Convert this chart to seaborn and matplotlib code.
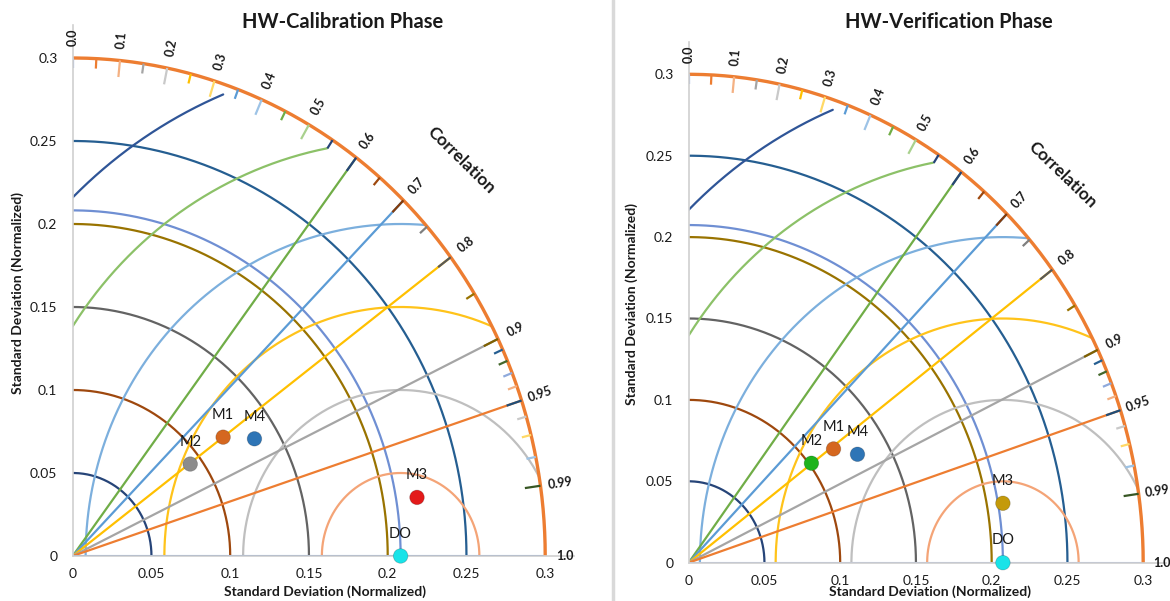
import numpy as np
import pandas as pd
import matplotlib
matplotlib.use("Agg")
import matplotlib.pyplot as plt
import seaborn as sns
from matplotlib.lines import Line2D

# standard deviation circles (centred on origin)
std_levels = [0.05, 0.1, 0.15, 0.2, 0.25]
std_colors = ["#264478", "#9E480E", "#636363", "#997300", "#255E91"]
outer_std = 0.3

# centred RMS difference circles (centred on DO)
rms_levels = [0.05, 0.1, 0.15, 0.2, 0.25, 0.3]
rms_colors = ["#F4A477", "#BFBFBF", "#FFC31A", "#7CAFDD", "#8CC168", "#2F5597"]

# correlation rays
corr_lines = [0.6, 0.7, 0.8, 0.9, 0.95]
corr_line_colors = ["#70AD47", "#5B9BD5", "#FFC000", "#A5A5A5", "#ED7D31"]
corr_labels = [0.0, 0.1, 0.2, 0.3, 0.4, 0.5, 0.6, 0.7, 0.8, 0.9, 0.95, 0.99, 1.0]
corr_label_text = ["0.0", "0.1", "0.2", "0.3", "0.4", "0.5", "0.6", "0.7",
                   "0.8", "0.9", "0.95", "0.99", "1.0"]

# small ticks on the outer arc
tick_corr = [0.0, 0.05, 0.1, 0.15, 0.2, 0.25, 0.3, 0.35, 0.4, 0.45, 0.5, 0.55,
             0.6, 0.65, 0.7, 0.75, 0.8, 0.85, 0.9, 0.91, 0.92, 0.93, 0.94, 0.95,
             0.96, 0.97, 0.98, 0.99]
tick_colors = ["#8FAADC", "#ED7D31", "#F4B183", "#A5A5A5", "#C9C9C9", "#FFC000",
               "#FFD966", "#5B9BD5", "#9DC3E6", "#70AD47", "#A9D18E", "#264478",
               "#264478", "#9E480E", "#843C0C", "#7F7F7F", "#595959", "#997300",
               "#7F6000", "#255E91", "#43682B", "#8FAADC", "#F4B183", "#1F4E79",
               "#C9C9C9", "#FFD966", "#9DC3E6", "#375623"]

xticks = [0, 0.05, 0.1, 0.15, 0.2, 0.25, 0.3]
xtick_labels = ["0", "0.05", "0.1", "0.15", "0.2", "0.25", "0.3"]

# model points
cal_names = ["M1", "M4", "M2", "M3", "DO"]
cal_x = [0.0955, 0.1154, 0.0746, 0.2186, 0.2082]
cal_y = [0.0716, 0.0706, 0.0554, 0.0353, 0.0]
cal_colors = ["#D5671F", "#2E75B6", "#8C8C8C", "#E31A1A", "#19E3E8"]

ver_names = ["M1", "M4", "M2", "M3", "DO"]
ver_x = [0.0956, 0.1114, 0.0810, 0.2074, 0.2074]
ver_y = [0.0699, 0.0666, 0.0611, 0.0365, 0.0]
ver_colors = ["#D5671F", "#2E75B6", "#1DB31D", "#C49A0A", "#19E3E8"]

sns.set_style("white")
plt.rcParams["font.family"] = ["Lato", "DejaVu Sans"]

TXT = "#1a1a1a"


def line(ax, x, y, color, lw=1.6):
    df = pd.DataFrame({"x": x, "y": y})
    sns.lineplot(data=df, x="x", y="y", ax=ax, color=color, lw=lw,
                 sort=False, estimator=None, legend=False)


def disp_angle(ax, ang):
    p0 = ax.transData.transform((0, 0))
    p1 = ax.transData.transform((0.1 * np.cos(ang), 0.1 * np.sin(ang)))
    return np.degrees(np.arctan2(p1[1] - p0[1], p1[0] - p0[0]))


def taylor(ax, names, xs, ys, colors, xmax, blue_base):
    ax.set_xlim(0, xmax)
    ax.set_ylim(0, 0.32)
    R = outer_std
    do_std = xs[names.index("DO")]
    t = np.linspace(0, np.pi / 2, 200)

    # std circles
    for lev, c in zip(std_levels, std_colors):
        line(ax, lev * np.cos(t), lev * np.sin(t), c)
    line(ax, do_std * np.cos(t), do_std * np.sin(t), "#6F8FD3")

    # rms circles
    for lev, c in zip(rms_levels, rms_colors):
        r_end = R if lev <= 0.2 else 0.294
        t0 = np.arccos(np.clip((r_end ** 2 - do_std ** 2 - lev ** 2) / (2 * do_std * lev), -1, 1))
        t1 = np.arccos(np.clip(-do_std / lev, -1, 1))
        tt = np.linspace(t0, t1, 200)
        line(ax, do_std + lev * np.cos(tt), lev * np.sin(tt), c)

    # correlation rays
    for cc, c in zip(corr_lines, corr_line_colors):
        a = np.arccos(cc)
        line(ax, [0, R * np.cos(a)], [0, R * np.sin(a)], c)
    line(ax, [0, R], [0, 0], blue_base, lw=2.2)

    # outer arc
    line(ax, R * np.cos(t), R * np.sin(t), "#ED7D31", lw=2.4)

    # ticks on the outer arc
    for cc, c in zip(tick_corr, tick_colors):
        a = np.arccos(cc)
        ln = 0.010 if (cc in corr_labels and cc != 0.0) else 0.006
        ax.plot([R * np.cos(a), (R - ln) * np.cos(a)],
                [R * np.sin(a), (R - ln) * np.sin(a)], color=c, lw=1.6,
                solid_capstyle="butt")

    # correlation labels
    for cc, txt in zip(corr_labels, corr_label_text):
        a = np.arccos(cc)
        ax.text(0.3125 * np.cos(a), 0.3125 * np.sin(a), txt, rotation=disp_angle(ax, a),
                rotation_mode="anchor", ha="center", va="center", fontsize=9,
                fontweight="bold", color=TXT, clip_on=False)
    a = np.radians(44)
    ax.text(0.343 * np.cos(a), 0.343 * np.sin(a), "Correlation",
            rotation=disp_angle(ax, a) - 90, rotation_mode="anchor", ha="center",
            va="center", fontsize=12.5, fontweight="bold", color=TXT, clip_on=False)

    # points
    pts = pd.DataFrame({"x": xs, "y": ys, "name": names})
    sns.scatterplot(data=pts, x="x", y="y", hue="name", palette=dict(zip(names, colors)),
                    s=110, edgecolor="#00000033", linewidth=0.6, ax=ax, legend=False,
                    zorder=5, clip_on=False)
    for n, x, y in zip(names, xs, ys):
        ax.annotate(n, (x, y), xytext=(0, 16), textcoords="offset points",
                    ha="center", va="center", fontsize=10.5, color=TXT)

    ax.set_xticks(xticks)
    ax.set_xticklabels(xtick_labels)
    ax.set_yticks(xticks)
    ax.set_yticklabels(xtick_labels)
    ax.tick_params(length=0, labelsize=10, labelcolor=TXT)
    ax.tick_params(axis="y", pad=11)
    ax.tick_params(axis="x", pad=9)
    for s in ["top", "right"]:
        ax.spines[s].set_visible(False)
    for s in ["left", "bottom"]:
        ax.spines[s].set_color("#D0D0D0")
        ax.spines[s].set_linewidth(1.2)
    ax.set_xlabel("")
    ax.set_ylabel("")


fig = plt.figure(figsize=(11.7, 6.01), dpi=100)
ax1 = fig.add_axes([0.06214, 0.07488, 0.42808, 0.88386])
ax2 = fig.add_axes([0.58863, 0.06373, 0.40788, 0.86682])

taylor(ax1, cal_names, cal_x, cal_y, cal_colors, 0.318, "#4472C4")
taylor(ax2, ver_names, ver_x, ver_y, ver_colors, 0.315, "#8FAADC")

W, H = 1170, 601
fig.text(343 / W, 1 - 22 / H, "HW-Calibration Phase", ha="center", va="center",
         fontsize=14.5, fontweight="bold", color=TXT)
fig.text(949 / W, 1 - 22.5 / H, "HW-Verification Phase", ha="center", va="center",
         fontsize=14.5, fontweight="bold", color=TXT)
fig.text(325 / W, 1 - 592 / H, "Standard Deviation (Normalized)", ha="center",
         va="center", fontsize=10, fontweight="bold", color=TXT)
fig.text(930 / W, 1 - 592 / H, "Standard Deviation (Normalized)", ha="center",
         va="center", fontsize=10, fontweight="bold", color=TXT)
fig.text(18 / W, 1 - 293 / H, "Standard Deviation (Normalized)", ha="center",
         va="center", rotation=90, fontsize=10, fontweight="bold", color=TXT)
fig.text(632 / W, 1 - 304 / H, "Standard Deviation (Normalized)", ha="center",
         va="center", rotation=90, fontsize=10, fontweight="bold", color=TXT)

fig.add_artist(Line2D([613 / W, 613 / W], [0, 1], color="#D9D9D9", lw=2.5))

fig.savefig("out.png", dpi=100)
